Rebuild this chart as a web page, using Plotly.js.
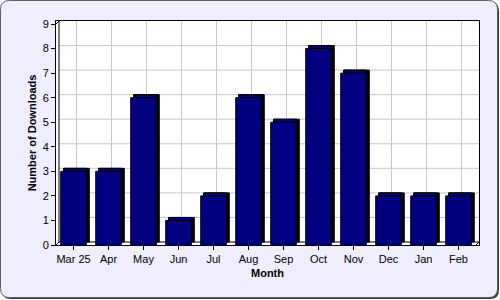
<!DOCTYPE html>
<html>
<head>
<meta charset="utf-8">
<script src="https://cdn.plot.ly/plotly-3.0.1.min.js"></script>
<style>html,body{margin:0;padding:0;background:#fff;}#chart{width:500px;height:300px;}</style>
</head>
<body>
<div id="chart"></div>
<script>
// ---- data ----
var months = ["Mar 25", "Apr", "May", "Jun", "Jul", "Aug", "Sep", "Oct", "Nov", "Dec", "Jan", "Feb"];
var downloads = [3, 3, 6, 1, 2, 6, 5, 8, 7, 2, 2, 2];
var yTicks = [0, 1, 2, 3, 4, 5, 6, 7, 8, 9];

// ---- style / geometry ----
var W = 500, H = 300;
var navy = "#000080";
var gridColor = "#c8c8c8";
var barW = 0.73;          // bar width in category units
var dx = 3 / 35;          // depth offset (category units)
var dy = 3 / 24.56;       // depth offset (value units)
var yMax = 9;
var n = months.length;

function px(x) { return x / W; }
function py(y) { return 1 - y / H; }
function roundRect(x0, y0, x1, y1, r) {
  var rx = r / W, ry = r / H;
  var X0 = px(x0), X1 = px(x1), Y0 = py(y0), Y1 = py(y1);
  return "M" + (X0 + rx) + "," + Y0 +
    " L" + (X1 - rx) + "," + Y0 + " Q" + X1 + "," + Y0 + " " + X1 + "," + (Y0 - ry) +
    " L" + X1 + "," + (Y1 + ry) + " Q" + X1 + "," + Y1 + " " + (X1 - rx) + "," + Y1 +
    " L" + (X0 + rx) + "," + Y1 + " Q" + X0 + "," + Y1 + " " + X0 + "," + (Y1 + ry) +
    " L" + X0 + "," + (Y0 - ry) + " Q" + X0 + "," + Y0 + " " + (X0 + rx) + "," + Y0 + " Z";
}

var shapes = [];
// frame shadow + frame
shapes.push({type: "path", xref: "paper", yref: "paper", layer: "below",
  path: roundRect(2, 2, 499, 299, 9), fillcolor: "#3a3a3a", line: {width: 0}});
shapes.push({type: "path", xref: "paper", yref: "paper", layer: "below",
  path: roundRect(0.5, 0.5, 497.5, 297.5, 9), fillcolor: "#eeeeff", line: {color: "#606060", width: 1}});
// white plot area
shapes.push({type: "rect", xref: "x", yref: "y", layer: "below",
  x0: -0.5, x1: n - 0.5 + dx, y0: 0, y1: yMax + dy, fillcolor: "#ffffff", line: {width: 0}});
// back wall grid
months.forEach(function (m, i) {
  shapes.push({type: "line", xref: "x", yref: "y", layer: "below",
    x0: i + dx, x1: i + dx, y0: dy, y1: yMax + dy, line: {color: gridColor, width: 1}});
});
yTicks.forEach(function (t) {
  if (t === 0 || t === yMax) return;
  shapes.push({type: "line", xref: "x", yref: "y", layer: "below",
    x0: -0.5 + dx, x1: n - 0.5 + dx, y0: t + dy, y1: t + dy, line: {color: gridColor, width: 1}});
});
// 3D box edges
var edge = {color: "#000000", width: 1};
function seg(x0, y0, x1, y1) {
  shapes.push({type: "line", xref: "x", yref: "y", layer: "below", x0: x0, y0: y0, x1: x1, y1: y1, line: edge});
}
seg(-0.5 + dx, dy, -0.5 + dx, yMax + dy);          // back-wall left edge
seg(-0.5 + dx, dy, n - 0.5 + dx, dy);               // floor back edge
seg(-0.5, 0, -0.5 + dx, dy);                        // floor left diagonal
seg(n - 0.5, 0, n - 0.5 + dx, dy);                  // floor right diagonal
seg(-0.5, yMax, -0.5 + dx, yMax + dy);              // top-left diagonal

var traces = [
  { // side / depth
    type: "bar", x: months, y: downloads, base: dy, width: barW, offset: -barW / 2 + dx,
    marker: {color: "#000000", line: {color: "#000000", width: 1}}, hoverinfo: "skip", showlegend: false
  },
  { // top face
    type: "bar", x: months, y: downloads, base: dy, width: barW - dx, offset: -barW / 2 + dx,
    marker: {color: navy, line: {color: "#000000", width: 1}}, hoverinfo: "skip", showlegend: false
  },
  { // front face
    type: "bar", x: months, y: downloads, width: barW, offset: -barW / 2,
    marker: {color: navy, line: {color: "#000000", width: 1}}, hoverinfo: "skip", showlegend: false
  }
];

var font = {family: "Liberation Sans, Arial, sans-serif", size: 11, color: "#000000"};
var layout = {
  width: W, height: H,
  margin: {l: 0, r: 0, t: 0, b: 0},
  paper_bgcolor: "#ffffff",
  plot_bgcolor: "rgba(0,0,0,0)",
  barmode: "overlay",
  font: font,
  showlegend: false,
  shapes: shapes,
  xaxis: {
    type: "category", domain: [px(56), px(479)], range: [-0.5, n - 0.5 + dx],
    categoryorder: "array", categoryarray: months,
    showgrid: false, zeroline: false, showline: true, linecolor: "#000000", linewidth: 1,
    mirror: true, ticks: "outside", ticklen: 4, tickcolor: "#000000",
    tickfont: font, fixedrange: true,
    title: {text: "Month", font: {family: font.family, size: 11, color: "#000000", weight: "bold"}, standoff: 5}
  },
  yaxis: {
    domain: [py(245), py(21)], range: [0, yMax + dy],
    tickmode: "array", tickvals: yTicks, ticktext: yTicks.map(String),
    showgrid: false, zeroline: false, showline: true, linecolor: "#000000", linewidth: 1,
    mirror: true, ticks: "outside", ticklen: 4, tickcolor: "#000000",
    tickfont: font, fixedrange: true,
    title: {text: "Number of Downloads", font: {family: font.family, size: 11, color: "#000000", weight: "bold"}, standoff: 3}
  }
};

Plotly.newPlot("chart", traces, layout, {displayModeBar: false, staticPlot: true});
</script>
</body>
</html>
